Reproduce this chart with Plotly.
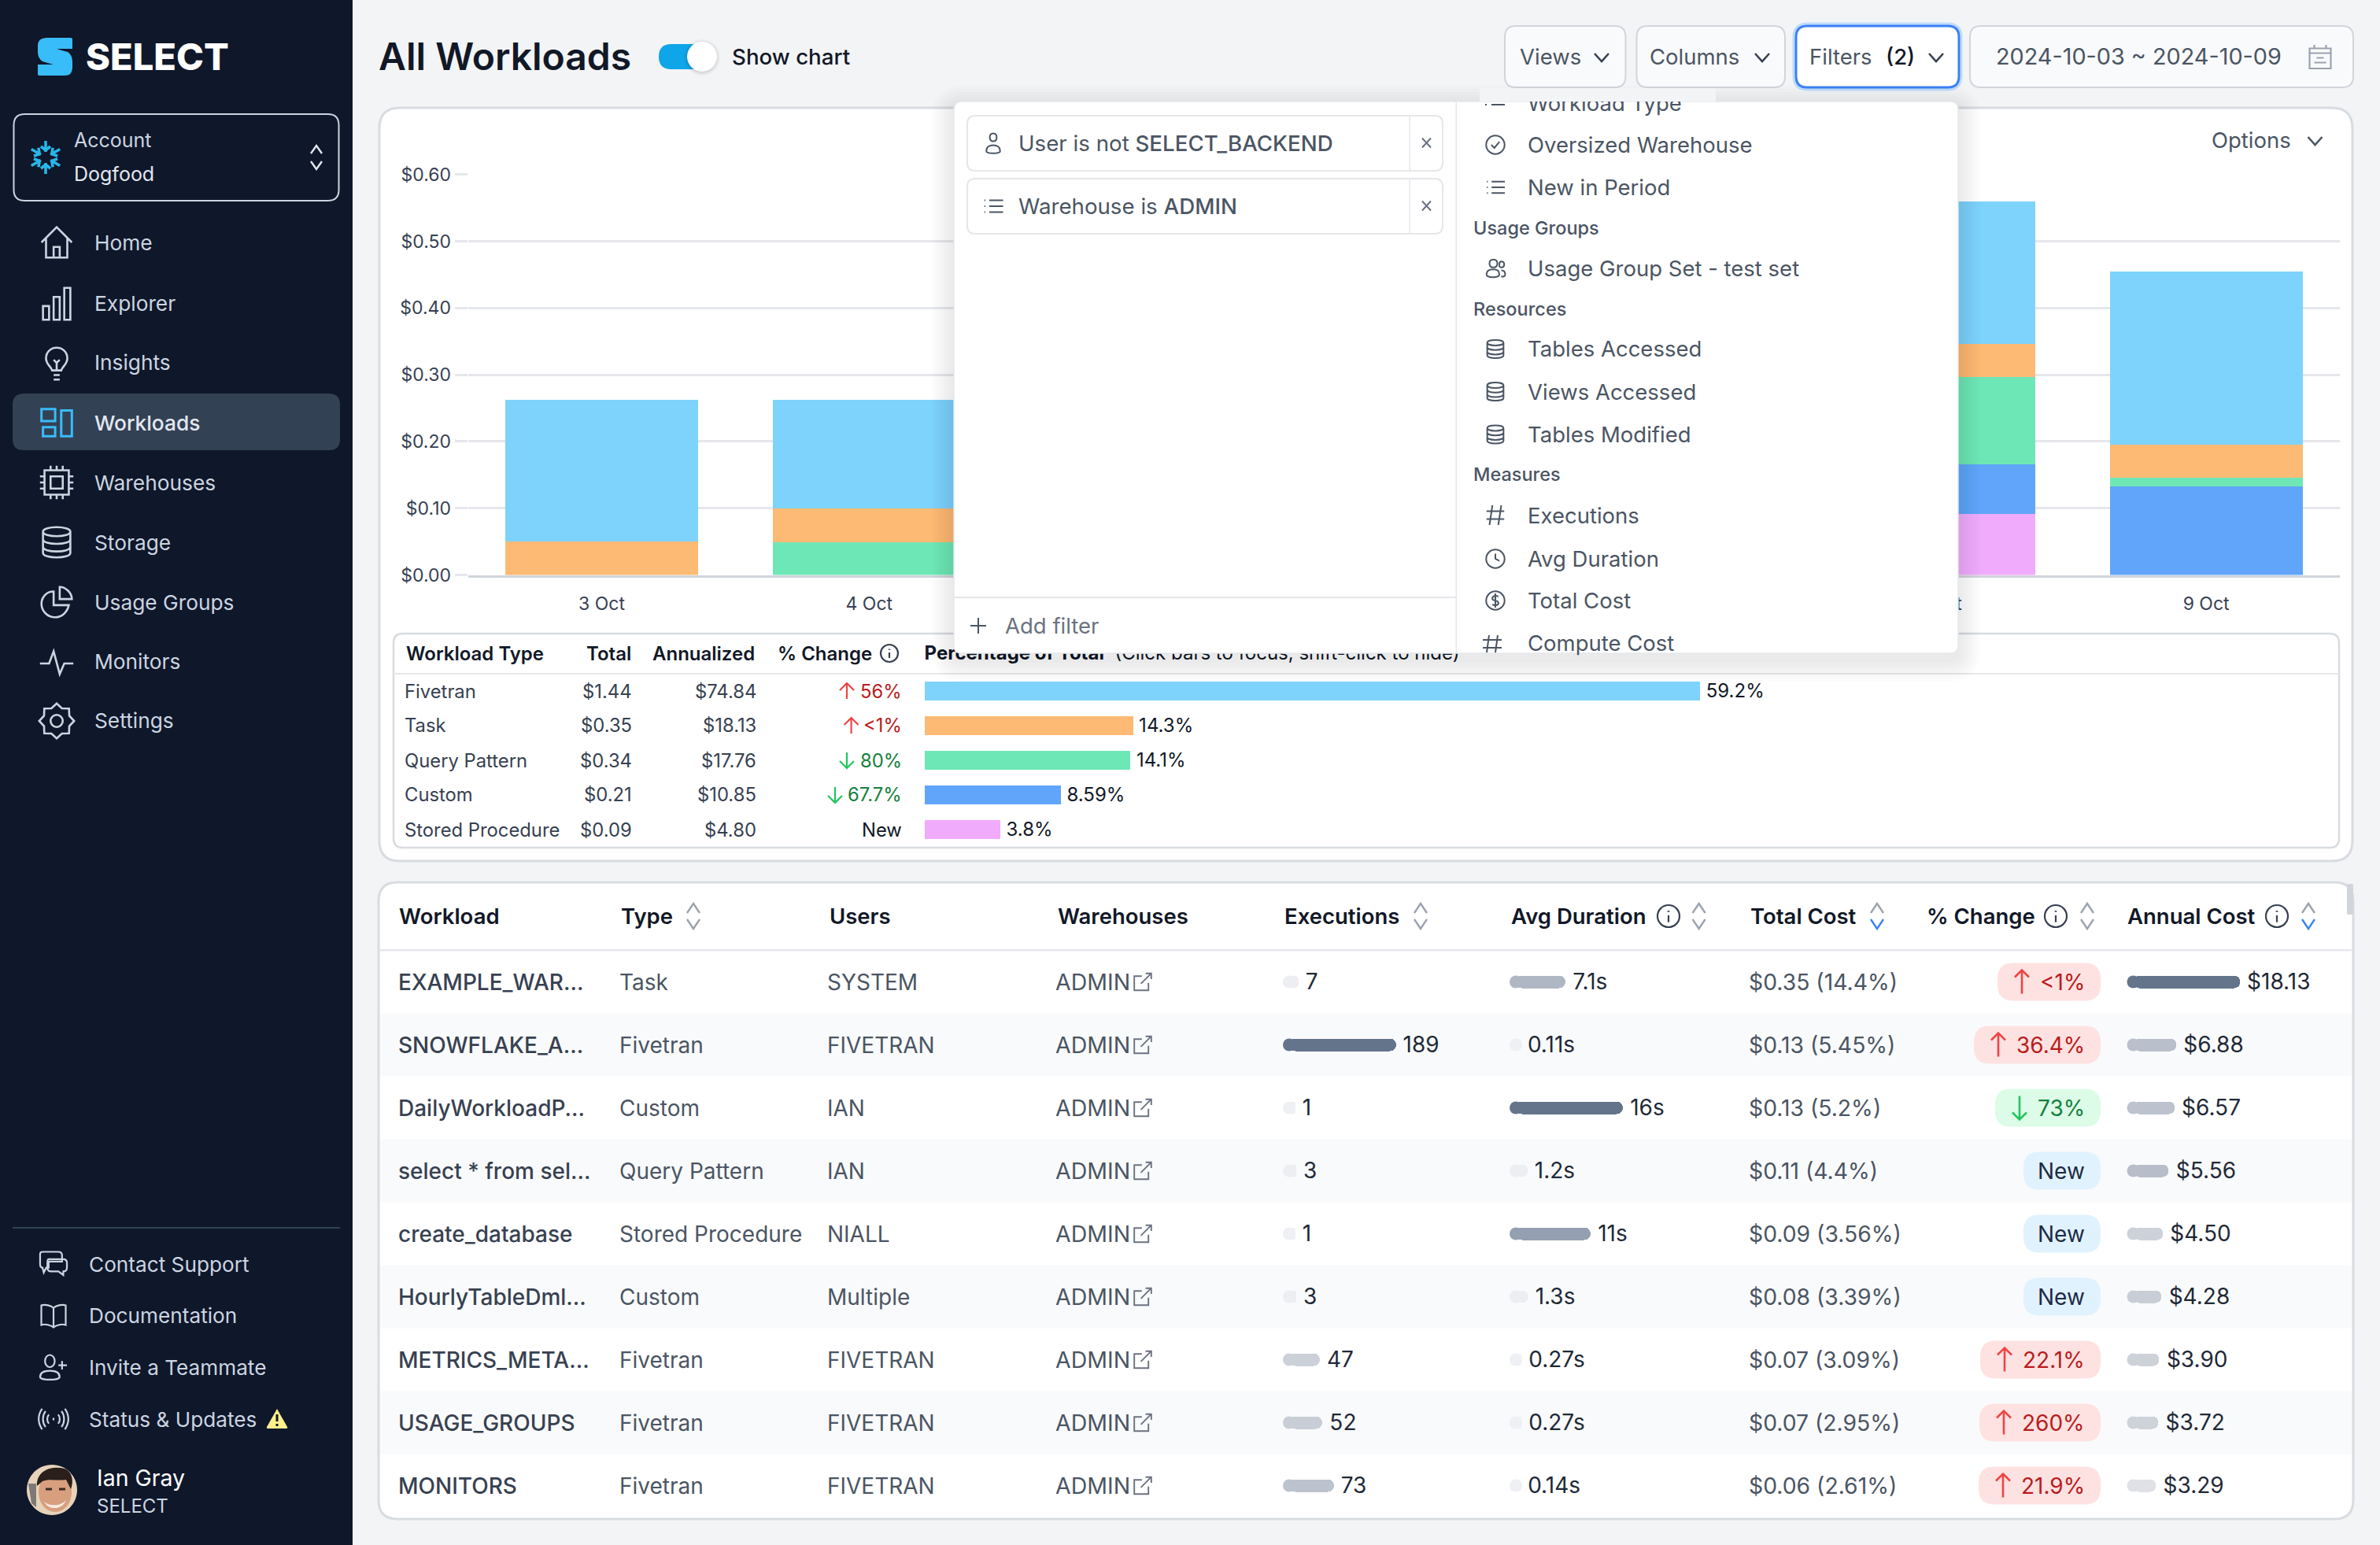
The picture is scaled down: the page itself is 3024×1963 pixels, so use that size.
import math, re
import plotly.graph_objects as go

W, H = 3024, 1963

# ---------- data ----------
days = ["3 Oct", "4 Oct", "5 Oct", "6 Oct", "7 Oct", "8 Oct", "9 Oct"]
y_tick_vals = [0, 0.1, 0.2, 0.3, 0.4, 0.5, 0.6]
y_tick_text = ["$0.00", "$0.10", "$0.20", "$0.30", "$0.40", "$0.50", "$0.60"]
stored_procedure = [0, 0, 0, 0, 0, 0.092, 0]
custom = [0, 0, 0, 0, 0, 0.0745, 0.133]
query_pattern = [0, 0.049, 0.05, 0.05, 0.048, 0.13, 0.0133]
task = [0.05, 0.051, 0.05, 0.05, 0.05, 0.05, 0.049]
fivetran = [0.213, 0.163, 0.197, 0.197, 0.197, 0.213, 0.260]

type_names = ["Fivetran", "Task", "Query Pattern", "Custom", "Stored Procedure"]
type_total = ["$1.44", "$0.35", "$0.34", "$0.21", "$0.09"]
type_annual = ["$74.84", "$18.13", "$17.76", "$10.85", "$4.80"]
type_change = ["56%", "<1%", "80%", "67.7%", "New"]
type_dir = ["up", "up", "down", "down", "new"]
type_pct = [59.2, 14.3, 14.1, 8.59, 3.8]
type_pct_labels = ["59.2%", "14.3%", "14.1%", "8.59%", "3.8%"]
type_colors = ["#7dd3fc", "#fdba74", "#6ee7b7", "#60a5fa", "#f0abfc"]

wl_names = ["EXAMPLE_WAR...", "SNOWFLAKE_A...", "DailyWorkloadP...", "select * from sel...", "create_database",
            "HourlyTableDml...", "METRICS_META...", "USAGE_GROUPS", "MONITORS"]
wl_types = ["Task", "Fivetran", "Custom", "Query Pattern", "Stored Procedure", "Custom", "Fivetran", "Fivetran", "Fivetran"]
wl_users = ["SYSTEM", "FIVETRAN", "IAN", "IAN", "NIALL", "Multiple", "FIVETRAN", "FIVETRAN", "FIVETRAN"]
wl_wh = ["ADMIN"] * 9
wl_exec = [7, 189, 1, 3, 1, 3, 47, 52, 73]
wl_dur = [7.1, 0.11, 16, 1.2, 11, 1.3, 0.27, 0.27, 0.14]
wl_dur_labels = ["7.1s", "0.11s", "16s", "1.2s", "11s", "1.3s", "0.27s", "0.27s", "0.14s"]
wl_cost = ["$0.35 (14.4%)", "$0.13 (5.45%)", "$0.13 (5.2%)", "$0.11 (4.4%)", "$0.09 (3.56%)",
           "$0.08 (3.39%)", "$0.07 (3.09%)", "$0.07 (2.95%)", "$0.06 (2.61%)"]
wl_change = ["<1%", "36.4%", "73%", "New", "New", "New", "22.1%", "260%", "21.9%"]
wl_dir = ["up", "up", "down", "new", "new", "new", "up", "up", "up"]
wl_pill_w = [131, 161, 134, 98, 98, 98, 153, 154, 155]
wl_annual = [18.13, 6.88, 6.57, 5.56, 4.50, 4.28, 3.90, 3.72, 3.29]
wl_annual_labels = ["$18.13", "$6.88", "$6.57", "$5.56", "$4.50", "$4.28", "$3.90", "$3.72", "$3.29"]
exec_colors = ["#eceef1", "#64748b", "#eff0f3", "#edeef1", "#eff0f3", "#edeef1", "#ccd1d9", "#c9ced6", "#bcc3ce"]
dur_colors = ["#b0b7c4", "#eff0f3", "#64748b", "#eceef1", "#94a0b2", "#eceef1", "#eff0f3", "#eff0f3", "#eff0f3"]
annual_colors = ["#64748b", "#b9c0cc", "#bcc3cf", "#b8bec9", "#cdd2da", "#c9ced6", "#cdd2d9", "#ced2d9", "#dfe1e6"]

nav_items = ["Home", "Explorer", "Insights", "Workloads", "Warehouses", "Storage", "Usage Groups", "Monitors", "Settings"]
foot_items = ["Contact Support", "Documentation", "Invite a Teammate", "Status & Updates"]

# ---------- helpers (page chrome in page pixels) ----------
shapes, notes = [], []
FONT = "Inter"
def px(x): return x / W
def py(y): return 1 - y / H

def conv(d):
    out, i = [], 0
    for tok in re.findall(r"[MLCQZ]|-?\d+\.?\d*", d):
        if tok in "MLCQZ":
            out.append(tok)
        else:
            v = float(tok)
            out.append(f"{px(v) if i % 2 == 0 else py(v):.6f}")
            i += 1
    return " ".join(out)

def path(d, fill=None, line=None, lw=0, layer="below"):
    s = dict(type="path", path=conv(d), xref="paper", yref="paper", layer=layer,
             line=dict(color=line or "rgba(0,0,0,0)", width=lw))
    if fill:
        s["fillcolor"] = fill
    shapes.append(s)

def rr(x0, y0, x1, y1, r):
    return (f"M {x0+r} {y0} L {x1-r} {y0} Q {x1} {y0} {x1} {y0+r} L {x1} {y1-r} Q {x1} {y1} {x1-r} {y1} "
            f"L {x0+r} {y1} Q {x0} {y1} {x0} {y1-r} L {x0} {y0+r} Q {x0} {y0} {x0+r} {y0} Z")

def rect(x0, y0, x1, y1, r=0, fill=None, line=None, lw=0, layer="below"):
    path(rr(x0, y0, x1, y1, r) if r else f"M {x0} {y0} L {x1} {y0} L {x1} {y1} L {x0} {y1} Z", fill, line, lw, layer)

def ell(cx, cy, rx, ry=None):
    ry = ry if ry is not None else rx
    k = 0.5523
    return (f"M {cx+rx} {cy} C {cx+rx} {cy+k*ry} {cx+k*rx} {cy+ry} {cx} {cy+ry} C {cx-k*rx} {cy+ry} {cx-rx} {cy+k*ry} {cx-rx} {cy} "
            f"C {cx-rx} {cy-k*ry} {cx-k*rx} {cy-ry} {cx} {cy-ry} C {cx+k*rx} {cy-ry} {cx+rx} {cy-k*ry} {cx+rx} {cy} Z")

def icon(d, cx, cy, color, s=1.93, lw=2.6, fill=None, layer="below"):
    toks, out, i = re.findall(r"[MLCQZ]|-?\d+\.?\d*", d), [], 0
    for t in toks:
        if t in "MLCQZ":
            out.append(t)
        else:
            v = float(t)
            out.append(f"{(cx if i % 2 == 0 else cy) + (v - 12) * s:.2f}")
            i += 1
    path(" ".join(out), fill, color, lw, layer)

def T(x, y, text, size=27, color="#374151", anchor="left", weight=400):
    notes.append(dict(x=px(x), y=py(y), xref="paper", yref="paper", text=text, showarrow=False,
                      xanchor=anchor, yanchor="middle", borderpad=0, borderwidth=0,
                      font=dict(family=FONT, size=size, color=color, weight=weight)))

def chev(cx, cy, color="#374151", w=9, h=5, lw=2.6, up=False, layer="below"):
    a, b = (cy + h, cy - h) if up else (cy - h, cy + h)
    path(f"M {cx-w} {a} L {cx} {b} L {cx+w} {a}", None, color, lw, layer)

def arrow(cx, cy, up, color, h=14, lw=2.6, layer="below"):
    tip, tail = (cy - h, cy + h) if up else (cy + h, cy - h)
    d = 9 if up else -9
    path(f"M {cx} {tail} L {cx} {tip} M {cx-9} {tip+d} L {cx} {tip} L {cx+9} {tip+d}", None, color, lw, layer)

def info(cx, cy, r=13, color="#374151"):
    path(ell(cx, cy, r), None, color, 2.2)
    path(f"M {cx} {cy-1} L {cx} {cy+r*0.55}", None, color, 2.2)
    path(f"M {cx} {cy-r*0.5} L {cx} {cy-r*0.38}", None, color, 2.6)

# ---------- page frame ----------
rect(0, 0, 448, H, fill="#0f172a")
# logo
path("M 60 48 L 90 48 Q 92 48 92 50 L 92 62 L 72 62 Q 78 64 86 66 Q 92 70 92 78 L 92 86 Q 92 96 82 96 L 50 96 "
     "Q 48 96 48 94 L 48 82 L 68 82 Q 60 80 54 78 Q 48 74 48 66 L 48 58 Q 48 48 60 48 Z", fill="#38bdf8")
T(109, 72, "SELECT", 47, "#ffffff", weight=800)
# account box
rect(17.5, 145, 430.5, 255, 14, None, "#cbd5e1", 2)
T(94, 178, "Account", 25, "#cbd5e1")
T(94, 221, "Dogfood", 25, "#e2e8f0")
for a in range(6):
    t = math.radians(90 + 60 * a)
    cx, cy = 58, 200
    ux, uy = math.cos(t), math.sin(t)
    nx, ny = -uy, ux
    path(f"M {cx+7*ux:.1f} {cy+7*uy:.1f} L {cx+21*ux:.1f} {cy+21*uy:.1f} M {cx+14*ux+6*nx:.1f} {cy+14*uy+6*ny:.1f} "
         f"L {cx+9*ux:.1f} {cy+9*uy:.1f} L {cx+14*ux-6*nx:.1f} {cy+14*uy-6*ny:.1f}", None, "#29b5e8", 3.6)
chev(402, 190, "#e2e8f0", 7, 5, 2.4, up=True)
chev(402, 210, "#e2e8f0", 7, 5, 2.4)

# nav
rect(16, 500, 432, 572, 14, fill="#334155")
nav_y = [308.6, 385, 461, 537, 613, 689, 765, 841, 916]
ic = "#cbd5e1"
for name, y in zip(nav_items, nav_y):
    T(120, y, name, 26.3, "#e2e8f0" if name == "Workloads" else "#cbd5e1", weight=500 if name == "Workloads" else 400)
IX = 72
icon("M 2 12 L 12 2 L 22 12 M 5 9 L 5 22 L 19 22 L 19 9 M 10 22 L 10 15 L 14 15 L 14 22", IX, 308, ic)
icon("M 3 14 L 7 14 L 7 23 L 3 23 Z M 10 8 L 14 8 L 14 23 L 10 23 Z M 17 2 L 21 2 L 21 23 L 17 23 Z", IX, 385, ic)
icon("M 9 17 C 8 14 5 13 5 9 C 5 5 8 2 12 2 C 16 2 19 5 19 9 C 19 13 16 14 15 17 Z M 10 20 L 14 20 M 10 23 L 14 23 M 12 17 L 12 11 M 10 10 L 12 12 L 14 10", IX, 461, ic)
icon("M 2 3 L 11 3 L 11 11 L 2 11 Z M 3 15 L 11 15 L 11 21 L 3 21 Z M 15 4 L 22 4 L 22 21 L 15 21 Z", IX, 537, "#38bdf8", lw=3)
icon("M 4 4 L 20 4 L 20 20 L 4 20 Z M 8 8 L 16 8 L 16 16 L 8 16 Z M 8 1 L 8 4 M 12 1 L 12 4 M 16 1 L 16 4 M 8 20 L 8 23 M 12 20 L 12 23 M 16 20 L 16 23 "
     "M 1 8 L 4 8 M 1 12 L 4 12 M 1 16 L 4 16 M 20 8 L 23 8 M 20 12 L 23 12 M 20 16 L 23 16", IX, 613, ic)
DB = ("M 3 5 C 3 1 21 1 21 5 C 21 9 3 9 3 5 Z M 3 5 L 3 19 C 3 23 21 23 21 19 L 21 5 M 3 10 C 3 14 21 14 21 10 M 3 15 C 3 19 21 19 21 15")
icon(DB, IX, 689, ic)
icon("M 10 5 C 5 5 2 9 2 13 C 2 18 6 22 11 22 C 15 22 19 19 20 14 L 10 14 Z M 14 2 C 18 2 22 6 22 10 L 14 10 Z", IX, 765, ic)
icon("M 1 13 L 7 13 L 10 5 L 14 20 L 17 13 L 23 13", IX, 841, ic)
gear = []
for i in range(16):
    t = i * math.pi / 8
    r = 11.5 if i % 2 == 0 else 9
    gear.append(f"{'M' if i == 0 else 'L'} {12 + r*math.cos(t):.2f} {12 + r*math.sin(t):.2f}")
icon(" ".join(gear) + " Z", IX, 916, ic)
icon("M 16 12 C 16 14.2 14.2 16 12 16 C 9.8 16 8 14.2 8 12 C 8 9.8 9.8 8 12 8 C 14.2 8 16 9.8 16 12 Z", IX, 916, ic)

# sidebar foot
rect(16, 1559, 432, 1561, fill="#334155")
foot_y = [1606, 1671, 1737, 1803]
for name, y in zip(foot_items, foot_y):
    T(113, y, name, 26.2, "#cbd5e1")
icon("M 3 2 L 16 2 Q 19 2 19 5 L 19 10 L 8 10 L 8 15 L 6 15 L 4 19 L 3 15 Q 1 15 1 12 L 1 4 Q 1 2 3 2 Z M 8 8 L 20 8 Q 23 8 23 11 L 23 15 Q 23 18 20 18 L 20 21 L 16 18 L 10 18 Q 7 18 7 15 L 7 11 Q 7 8 8 8 Z", 68, 1606, ic, s=1.55, lw=2.2)
icon("M 12 6 C 10 4 5 3 2 4 L 2 20 C 5 19 10 20 12 22 C 14 20 19 19 22 20 L 22 4 C 19 3 14 4 12 6 Z M 12 6 L 12 22", 68, 1671, ic, s=1.55, lw=2.2)
icon("M 13 7 C 13 10 11 12 9 12 C 7 12 5 10 5 7 C 5 4 7 2 9 2 C 11 2 13 4 13 7 Z M 1 20 C 1 16 5 15 9 15 C 13 15 17 16 17 20 C 17 23 1 23 1 20 Z M 19 7 L 19 14 M 16 10.5 L 23 10.5", 68, 1737, ic, s=1.55, lw=2.2)
icon("M 12 11 L 12 13 M 8 8 C 6 10 6 14 8 16 M 16 8 C 18 10 18 14 16 16 M 5 5 C 2 9 2 15 5 19 M 19 5 C 22 9 22 15 19 19 M 2 3 C -2 9 -2 15 2 21 M 22 3 C 26 9 26 15 22 21", 68, 1803, ic, s=1.45, lw=2.2)
path("M 352 1790 L 365 1813 Q 366 1815 363 1815 L 341 1815 Q 338 1815 339 1813 Z", fill="#fef08a")
path("M 352 1797 L 352 1806 M 352 1809 L 352 1812", None, "#0f172a", 3)
# avatar
path(ell(66, 1893, 32), fill="#e7d3ba")
path("M 36 1885 L 46 1885 L 46 1915 L 40 1910 Z", fill="#7d7a75")
path(ell(70, 1896, 21, 25), fill="#d89f7f")
path("M 47 1888 C 46 1868 66 1862 82 1866 C 92 1870 94 1882 90 1892 L 84 1880 C 74 1882 62 1878 54 1882 Z", fill="#2a1f1b")
path("M 56 1908 C 62 1914 78 1914 84 1906 C 80 1918 62 1920 56 1908 Z", fill="#f5ebe3")
path("M 58 1892 L 66 1892 M 75 1892 L 83 1892", None, "#3a2a22", 3)
T(123, 1877, "Ian Gray", 28.5, "#ffffff")
T(123, 1913, "SELECT", 24, "#cbd5e1")

# header
T(481, 72, "All Workloads", 48, "#111827", weight=600)
rect(837, 56, 900, 88, 16, fill="#0ea5e9")
for i, a in enumerate([0.03, 0.05, 0.08]):
    path(ell(892, 73, 23 - 2 * i), fill=f"rgba(0,0,0,{a})")
path(ell(892, 72, 19), fill="#ffffff")
T(930, 72, "Show chart", 27.7, "#111827", weight=500)

BC = "#d1d5db"
rect(1912, 33, 2065.5, 111, 14, "#f9fafb", BC, 2)
T(1930.6, 72, "Views", 27.5, "#4b5563")
chev(2035, 73)
rect(2079.5, 33, 2268, 111, 14, "#f9fafb", BC, 2)
T(2096, 72, "Columns", 27.5, "#4b5563")
chev(2239, 73)
rect(2282, 33, 2489, 111, 14, "#ffffff", "#bfdbfe", 9)
rect(2282, 33, 2489, 111, 14, "#ffffff", "#3b82f6", 3)
T(2299, 72, "Filters", 27.5, "#4b5563")
T(2396, 72, "(2)", 27.5, "#111827", weight=500)
chev(2460, 73)
rect(2503, 33, 2990, 111, 14, "#f9fafb", BC, 2)
T(2535.5, 72, "2024-10-03 ~ 2024-10-09", 28.8, "#4b5563")
icon("M 3 5 L 21 5 L 21 22 L 3 22 Z M 3 9 L 21 9 M 7 2 L 7 5 M 17 2 L 17 5 M 9 13 L 15 13 M 7 17 L 17 17", 2948, 72, "#9ca3af", s=1.5, lw=2.2)

# cards
rect(482, 137, 2989, 1094, 26, "#ffffff", "#d8dbe0", 3)
rect(500, 805, 2972, 1077, 12, "#ffffff", "#d8dbe0", 2.5)
rect(500, 855, 2972, 857, fill="#e5e7eb")
T(2810, 178, "Options", 27.5, "#4b5563")
chev(2941.5, 179, "#4b5563")

# small table text
T(515.6, 831, "Workload Type", 24, "#111827", weight=600)
T(801.5, 831, "Total", 24, "#111827", "right", 600)
T(959, 831, "Annualized", 24, "#111827", "right", 600)
T(1108, 831, "% Change", 24, "#111827", "right", 600)
info(1130, 830, 11)
for i in range(5):
    y = 878 + 44 * i
    T(514, y, type_names[i], 23.8, "#374151")
    T(802.6, y, type_total[i], 23.8, "#374151", "right")
    T(961, y, type_annual[i], 23.8, "#374151", "right")
    col = {"up": "#b91c1c", "down": "#15803d", "new": "#111827"}[type_dir[i]]
    T(1146, y, type_change[i], 23.8, col, "right")
arrow(1076, 878, True, "#ef4444", 10, 2.2)
arrow(1081.6, 922, True, "#ef4444", 10, 2.2)
arrow(1076, 966, False, "#22c55e", 10, 2.2)
arrow(1061, 1010, False, "#22c55e", 10, 2.2)

# big table
rect(481, 1121, 2990, 1930, 24, "#ffffff", "#d8dbe0", 3)
for i in range(1, 9, 2):
    rect(483, 1207.5 + 80 * i, 2988, 1287.5 + 80 * i, fill="#f9fafb")
rect(483, 1206, 2988, 1208.5, fill="#e5e7eb")
rect(2982, 1123, 2990, 1162, 2, fill="#d1d5db")
headers = [("Workload", 507), ("Type", 789), ("Users", 1054), ("Warehouses", 1344), ("Executions", 1631.6),
           ("Avg Duration", 1920), ("Total Cost", 2223.5), ("% Change", 2448), ("Annual Cost", 2703)]
for name, x in headers:
    T(x, 1164, name, 27.5, "#111827", weight=600)
for x, blue in [(881, False), (1805, False), (2158.6, False), (2385, True), (2652, False), (2933, True)]:
    chev(x, 1154, "#9ca3af", 8, 6, 2.4, up=True)
    chev(x, 1174, "#3b82f6" if blue else "#9ca3af", 8, 6, 2.4)
for x in [2120, 2612, 2893]:
    info(x, 1164, 14)
for i in range(9):
    y = 1247.5 + 80 * i
    T(505.5, y, wl_names[i], 28, "#374151", weight=500)
    T(786.6, y, wl_types[i], 28, "#4b5563")
    T(1051, y, wl_users[i], 28, "#4b5563")
    T(1340.5, y, wl_wh[i], 28.5, "#4b5563")
    icon("M 18 13 L 18 21 L 3 21 L 3 6 L 11 6 M 10 14 L 21 3 M 15 3 L 21 3 L 21 9", 1452, y, "#6b7280", s=1.2, lw=1.9)
    T(2222, y, wl_cost[i], 28.3, "#4b5563")
    d = wl_dir[i]
    fill = {"up": "#fee2e2", "down": "#dcfce7", "new": "#e0f2fe"}[d]
    tcol = {"up": "#b91c1c", "down": "#15803d", "new": "#1f2a44"}[d]
    rect(2669 - wl_pill_w[i], y - 24, 2669, y + 24, 20, fill=fill)
    T(2648.5, y, wl_change[i], 28, tcol, "right")
    if d != "new":
        arrow(2669 - wl_pill_w[i] + 31, y, d == "up", "#ef4444" if d == "up" else "#22c55e", h=15)

# ---------- popover (above the chart traces) ----------
for i in range(7):
    g = 4 + i * 4
    rect(1212 - g, 129 - g + 8, 2488 + g, 830 + g + 8, 12 + g, fill="rgba(15,23,42,0.012)", layer="above")
rect(1212, 129, 2488, 830, 10, "#ffffff", "#e5e7eb", 1.5, "above")
rect(1849.5, 130, 1851, 829, fill="#e5e7eb", layer="above")
rect(1213, 758, 1850, 760, fill="#e5e7eb", layer="above")
for y0, y1, lab in [(147, 217, 0), (227, 297, 1)]:
    rect(1229, y0, 1833, y1, 10, "#ffffff", "#e5e7eb", 2, "above")
    rect(1790.5, y0 + 1, 1792, y1 - 1, fill="#e5e7eb", layer="above")
    ym = (y0 + y1) / 2 - 0.5
    path(f"M 1807 {ym-6} L 1818 {ym+6} M 1818 {ym-6} L 1807 {ym+6}", None, "#6b7280", 2, "above")
T(1294, 182, "User is not <span style='font-weight:500'>SELECT_BACKEND</span>", 27.7, "#4b5563")
T(1294, 262, "Warehouse is <span style='font-weight:500'>ADMIN</span>", 27.7, "#4b5563")
PUSER = "M 15.5 6 C 15.5 8.5 14 10 12 10 C 10 10 8.5 8.5 8.5 6 C 8.5 3.5 10 2 12 2 C 14 2 15.5 3.5 15.5 6 Z M 5 20 C 5 16 8 14 12 14 C 16 14 19 16 19 20 C 19 23 5 23 5 20 Z"
PLIST = "M 8 6 L 22 6 M 8 12 L 22 12 M 8 18 L 22 18 M 3 6 L 4 6 M 3 12 L 4 12 M 3 18 L 4 18"
icon(PUSER, 1262, 182, "#4b5563", s=1.25, lw=2, layer="above")
icon(PLIST, 1262, 262, "#4b5563", s=1.25, lw=2, layer="above")
path("M 1243 785 L 1243 805 M 1233 795 L 1253 795", None, "#4b5563", 2, "above")
T(1277, 795, "Add filter", 27.5, "#6b7280")

for txt, y in [("Usage Groups", 290), ("Resources", 392), ("Measures", 602.6)]:
    T(1872, y, txt, 23.5, "#4b5563", weight=500)
T(1941, 131, "Workload Type", 27.5, "#4b5563")
items = [("Oversized Warehouse", 184), ("New in Period", 238), ("Usage Group Set - test set", 341),
         ("Tables Accessed", 443.5), ("Views Accessed", 497.6), ("Tables Modified", 552),
         ("Executions", 654.5), ("Avg Duration", 710), ("Total Cost", 763), ("Compute Cost", 817)]
for txt, y in items:
    T(1941, y, txt, 27.5, "#4b5563")
IC = "#4b5563"
icon(PLIST, 1900, 238, IC, s=1.2, lw=2, layer="above")
path("M 1887 133 L 1889 133 M 1895 133 L 1912 133", None, IC, 2, "above")
CIRC = "M 21 12 C 21 17 17 21 12 21 C 7 21 3 17 3 12 C 3 7 7 3 12 3 C 17 3 21 7 21 12 Z "
icon(CIRC + "M 8 12 L 11 15 L 16 9", 1900, 184, IC, s=1.3, lw=2, layer="above")
icon("M 14 7 C 14 9 13 11 10 11 C 7 11 6 9 6 7 C 6 4 8 3 10 3 C 13 3 14 5 14 7 Z M 3 18 C 3 14 6 13 10 13 C 14 13 16 15 16 18 C 16 22 3 22 3 18 Z M 21 8 C 21 10 20 11 18 11 C 16 11 16 10 16 8 C 16 6 17 5 18 5 C 20 5 21 6 21 8 Z M 18 14 C 21 14 22 16 22 18 C 22 20 20 21 18 20",
     1900, 341, IC, s=1.25, lw=2, layer="above")
for y in [443.5, 497.6, 552]:
    icon(DB, 1900, y, IC, s=1.15, lw=2, layer="above")
HASH = "M 9 2 L 6 22 M 18 2 L 15 22 M 3 8 L 21 8 M 3 16 L 21 16"
icon(HASH, 1900, 654.5, IC, s=1.25, lw=2, layer="above")
icon(CIRC + "M 12 7 L 12 12 L 16 14", 1900, 710, IC, s=1.3, lw=2, layer="above")
icon(CIRC + "M 15 8 C 13 7 9 7 9 10 C 9 13 15 11 15 14.5 C 15 17 11 17 9 16 M 12 5 L 12 19", 1900, 763, IC, s=1.3, lw=2, layer="above")
path("M 1892 807 L 1889 829 M 1903 807 L 1900 829 M 1884 813 L 1908 813 M 1884 823 L 1908 823", None, IC, 2, "above")
# trims the list row that scrolls out at the popover's top edge
notes.append(dict(x=px(1880), y=py(112), xref="paper", yref="paper", xanchor="left", yanchor="top", text=" ",
                  showarrow=False, width=300, height=17, bgcolor="#f3f4f6", borderpad=0, borderwidth=0))

# ---------- figure and axes ----------
fig = go.Figure()
base = [0] * len(days)
for name, vals, col in [("Stored Procedure", stored_procedure, "#f0abfc"), ("Custom", custom, "#60a5fa"),
                        ("Query Pattern", query_pattern, "#6ee7b7"), ("Task", task, "#fdba74"), ("Fivetran", fivetran, "#7dd3fc")]:
    fig.add_trace(go.Bar(x=days, y=vals, base=base, name=name, width=0.721, marker=dict(color=col, line=dict(width=0)),
                         xaxis="x", yaxis="y", showlegend=False))
    base = [b + v for b, v in zip(base, vals)]

def domx(a, b): return [px(a), px(b)]
def domy(top, bottom): return [py(bottom), py(top)]

layout_axes = dict(
    xaxis=dict(domain=domx(594.6, 2973), type="category", categoryorder="array", categoryarray=days, range=[-0.5, 6.5],
               showgrid=False, zeroline=False, showline=True, linecolor="#d1d5db", linewidth=2.5, ticks="outside", ticklen=14,
               tickcolor="rgba(0,0,0,0)", tickfont=dict(family=FONT, size=23, color="#374151"), anchor="y", automargin=False),
    yaxis=dict(domain=domy(221.7, 730.6), range=[0, 0.6], tickvals=y_tick_vals, ticktext=y_tick_text, ticks="outside", ticklen=16,
               tickcolor="#e5e7eb", tickwidth=2.5, gridcolor="#e5e7eb", gridwidth=2.5, zeroline=False, showline=False,
               tickfont=dict(family=FONT, size=23, color="#374151"), anchor="x", automargin=False),
)

# percentage-of-total bars
PM, PK = 35.0, 16.05
p0 = -PM / PK
layout_axes["xaxis2"] = dict(domain=domx(1174.6, 2960), range=[p0, p0 + (2960 - 1174.6) / PK], visible=False, anchor="y2", automargin=False)
layout_axes["yaxis2"] = dict(domain=domy(812, 1076), range=[4.5, -1.5], visible=False, anchor="x2", automargin=False)
rows5 = list(range(5))
fig.add_trace(go.Bar(x=[v - p0 for v in type_pct], y=rows5, base=[p0] * 5, orientation="h", width=24 / 44,
                     marker=dict(color=type_colors, line=dict(width=0)), xaxis="x2", yaxis="y2", showlegend=False))
fig.add_trace(go.Scatter(x=[v + 8 / PK for v in type_pct], y=[r + 2 / 44 for r in rows5], mode="text", text=type_pct_labels, textposition="middle right",
                         textfont=dict(family=FONT, size=24, color="#111827"), xaxis="x2", yaxis="y2", showlegend=False, cliponaxis=False))
# header of that column sits under the popover, so it is drawn inside the plot layer
fig.add_trace(go.Scatter(x=[p0], y=[-1.05], mode="text", textposition="middle right",
                         text=["<b>Percentage of Total</b>  (Click bars to focus, shift-click to hide)"],
                         textfont=dict(family=FONT, size=24, color="#111827"), xaxis="x2", yaxis="y2", showlegend=False, cliponaxis=False))

def micro(n, left, width, values, labels, colors, m, k):
    r = 8.0
    x0 = -m / k
    start = x0 + r / k
    rows = list(range(len(values)))
    xn, yn = f"x{n}", f"y{n}"
    layout_axes[f"xaxis{n}"] = dict(domain=domx(left, left + width), range=[x0, x0 + width / k], visible=False, anchor=yn, automargin=False)
    layout_axes[f"yaxis{n}"] = dict(domain=domy(1207.5, 1927.5), range=[8.5, -0.5], visible=False, anchor=xn, automargin=False)
    fig.add_trace(go.Bar(x=[v - start for v in values], y=rows, base=[start] * len(values), orientation="h", width=0.2,
                         marker=dict(color=colors, cornerradius=8, line=dict(width=0)), xaxis=xn, yaxis=yn, showlegend=False))
    fig.add_trace(go.Scatter(x=[start] * len(values), y=rows, mode="markers", marker=dict(size=16, color=colors, line=dict(width=0)),
                             xaxis=xn, yaxis=yn, showlegend=False, cliponaxis=False))
    fig.add_trace(go.Scatter(x=[v + 9 / k for v in values], y=[q + 2.5 / 80 for q in rows], mode="text", text=labels, textposition="middle right",
                             textfont=dict(family=FONT, size=28, color="#1f2937"), xaxis=xn, yaxis=yn, showlegend=False, cliponaxis=False))

micro(3, 1630, 270, wl_exec, [str(v) for v in wl_exec], exec_colors, 15, 0.68)
micro(4, 1918, 280, wl_dur, wl_dur_labels, dur_colors, 13, 8.2)
micro(5, 2702.5, 270, wl_annual, wl_annual_labels, annual_colors, 13.4, 7.18)

fig.update_layout(template="none", width=W, height=H, margin=dict(l=0, r=0, t=0, b=0, pad=0), autosize=False, barmode="overlay", bargap=0,
                  paper_bgcolor="#f3f4f6", plot_bgcolor="rgba(0,0,0,0)", font=dict(family=FONT), showlegend=False,
                  shapes=shapes, annotations=notes, **layout_axes)

fig.write_html("out.html", config=dict(displayModeBar=False),
               post_script="document.body.style.margin='0';document.documentElement.style.overflow='hidden';")
